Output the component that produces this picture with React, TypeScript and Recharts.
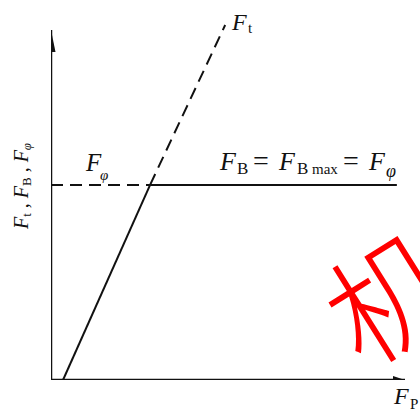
import React from "react";
import { LineChart, Line, XAxis, YAxis } from "recharts";

// Force diagram: F_t rises linearly with F_p, F_B capped at F_B max = F_phi
const xAxisPts = [{ fp: 0, f: 0 }, { fp: 100, f: 0 }];
const yAxisPts = [{ fp: 0, f: 0 }, { fp: 0, f: 97.2 }];
const ftSolid = [{ fp: 3.4, f: 0 }, { fp: 28.0, f: 54.2 }];
const ftDashed = [{ fp: 28.0, f: 54.2 }, { fp: 49.2, f: 98.6 }];
const fbDashed = [{ fp: 0, f: 54.2 }, { fp: 28.0, f: 54.2 }];
const fbSolid = [{ fp: 28.0, f: 54.2 }, { fp: 97.7, f: 54.2 }];

const INK = "#111";
const SERIF = "'Liberation Serif', 'DejaVu Serif', serif";

const arrowRight = (props: any) => {
  const { cx, cy, index } = props;
  if (index !== 1) return <g key={`ar${index}`} />;
  return (
    <polygon
      key={`ar${index}`}
      points={`${cx},${cy} ${cx - 12},${cy - 4} ${cx - 12},${cy + 4}`}
      fill={INK}
    />
  );
};

const arrowUp = (props: any) => {
  const { cx, cy, index } = props;
  if (index !== 1) return <g key={`au${index}`} />;
  return (
    <polygon
      key={`au${index}`}
      points={`${cx},${cy} ${cx - 4.5},${cy + 22} ${cx + 4.5},${cy + 22}`}
      fill={INK}
    />
  );
};

export default function App() {
  return (
    <div style={{ position: "absolute", left: 0, top: 0, width: 420, height: 412, background: "#fff", overflow: "hidden" }}>
      <LineChart width={420} height={412} data={xAxisPts} margin={{ top: 20, right: 15, bottom: 32, left: 51 }}>
        <XAxis dataKey="fp" type="number" domain={[0, 100]} hide allowDataOverflow />
        <YAxis dataKey="f" type="number" domain={[0, 100]} hide allowDataOverflow />
        <Line data={xAxisPts} dataKey="f" stroke={INK} strokeWidth={2.5} dot={arrowRight} activeDot={false} isAnimationActive={false} />
        <Line data={yAxisPts} dataKey="f" stroke={INK} strokeWidth={2.5} dot={arrowUp} activeDot={false} isAnimationActive={false} />
        <Line data={ftSolid} dataKey="f" stroke={INK} strokeWidth={2} dot={false} activeDot={false} isAnimationActive={false} />
        <Line data={ftDashed} dataKey="f" stroke={INK} strokeWidth={2} strokeDasharray="12 7" dot={false} activeDot={false} isAnimationActive={false} />
        <Line data={fbDashed} dataKey="f" stroke={INK} strokeWidth={2} strokeDasharray="12 7" dot={false} activeDot={false} isAnimationActive={false} />
        <Line data={fbSolid} dataKey="f" stroke={INK} strokeWidth={2} dot={false} activeDot={false} isAnimationActive={false} />

        <text fontFamily={SERIF} fill={INK}>
          <tspan x={232} y={30} fontSize={24} fontStyle="italic">F</tspan>
          <tspan x={248} y={33} fontSize={15}>t</tspan>
        </text>
        <text fontFamily={SERIF} fill={INK}>
          <tspan x={86} y={171} fontSize={25} fontStyle="italic">F</tspan>
          <tspan x={100} y={180} fontSize={15} fontStyle="italic">φ</tspan>
        </text>
        <text fontFamily={SERIF} fill={INK}>
          <tspan x={220} y={170} fontSize={26} fontStyle="italic">F</tspan>
          <tspan x={237} y={174} fontSize={17}>B</tspan>
          <tspan x={253} y={170} fontSize={28}>=</tspan>
          <tspan x={279} y={170} fontSize={26} fontStyle="italic">F</tspan>
          <tspan x={297} y={174} fontSize={17}>B</tspan>
          <tspan x={312} y={174} fontSize={15}>max</tspan>
          <tspan x={343} y={170} fontSize={28}>=</tspan>
          <tspan x={369} y={170} fontSize={26} fontStyle="italic">F</tspan>
          <tspan x={386} y={177} fontSize={18} fontStyle="italic">φ</tspan>
        </text>
        <text fontFamily={SERIF} fill={INK}>
          <tspan x={394} y={404} fontSize={24} fontStyle="italic">F</tspan>
          <tspan x={410} y={409} fontSize={15}>P</tspan>
        </text>
        <text x={0} y={0} transform="translate(28,186) rotate(-90)" textAnchor="middle" fontFamily={SERIF} fontSize={20} fill={INK}>
          <tspan fontStyle="italic">F</tspan>
          <tspan fontSize={13} dy={3}>t</tspan>
          <tspan dy={-3}> , </tspan>
          <tspan fontStyle="italic">F</tspan>
          <tspan fontSize={13} dy={3}>B</tspan>
          <tspan dy={-3}> , </tspan>
          <tspan fontStyle="italic">F</tspan>
          <tspan fontSize={13} dy={3} fontStyle="italic">φ</tspan>
        </text>
        <text
          x={0}
          y={0}
          transform="translate(386,292) rotate(-32)"
          textAnchor="middle"
          dominantBaseline="central"
          fontFamily="'Noto Sans CJK SC', sans-serif"
          fontWeight={300}
          fontSize={122}
          fill="#ff0000"
        >
          机
        </text>
      </LineChart>
    </div>
  );
}
